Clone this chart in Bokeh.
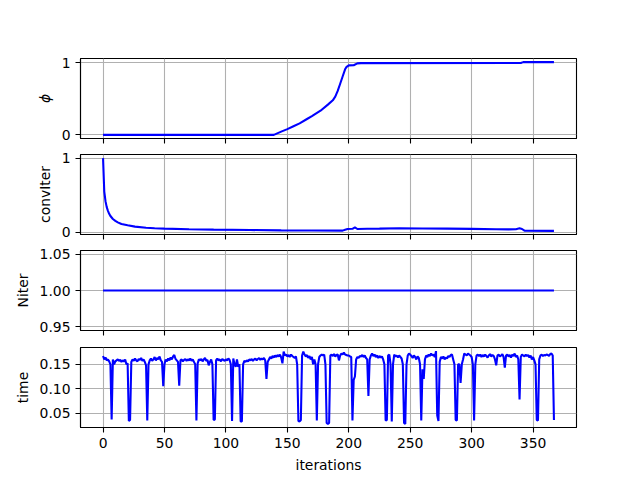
from bokeh.plotting import figure
from bokeh.layouts import column
from bokeh.models import FixedTicker, NumeralTickFormatter, Range1d, LinearAxis, CustomJSTickFormatter
from bokeh.embed import file_html
from bokeh.resources import INLINE

# ---------------- data ----------------
x_ticks = [0, 50, 100, 150, 200, 250, 300, 350]
n_iter = 368
iterations = list(range(n_iter))

phi_iter = [0, 139, 145, 150, 155, 160, 166, 170, 177, 183, 187, 189, 191, 193, 195, 197, 198, 200, 204, 207, 210, 340, 342, 367]
phi_vals = [0.0, 0.0, 0.045, 0.08, 0.12, 0.16, 0.22, 0.26, 0.335, 0.42, 0.48, 0.53, 0.61, 0.71, 0.81, 0.91, 0.94, 0.965, 0.967, 0.993, 0.996, 0.997, 1.01, 1.01]

conv_iter = [0, 1, 2, 3, 4, 5, 6, 8, 10, 12, 15, 20, 26, 35, 42, 50, 70, 90, 120, 145, 170, 195,
             197, 199, 203, 205, 207, 215, 225, 241, 260, 280, 300, 320, 330, 336, 339, 341, 343, 367]
conv_vals = [1.0, 0.55, 0.42, 0.34, 0.29, 0.25, 0.22, 0.18, 0.155, 0.135, 0.113, 0.095, 0.077, 0.063,
             0.055, 0.05, 0.042, 0.037, 0.031, 0.027, 0.025, 0.023, 0.035, 0.045, 0.048, 0.067, 0.045,
             0.048, 0.05, 0.056, 0.052, 0.05, 0.047, 0.042, 0.04, 0.042, 0.054, 0.045, 0.022, 0.02]

niter_iter = [0, 367]
niter_vals = [1.0, 1.0]

time_vals = [
    0.167, 0.160, 0.164, 0.158, 0.160, 0.156, 0.150, 0.037, 0.160, 0.150,
    0.156, 0.158, 0.160, 0.157, 0.159, 0.155, 0.158, 0.156, 0.160, 0.150,
    0.152, 0.034, 0.036, 0.155, 0.160, 0.157, 0.162, 0.158, 0.156, 0.161,
    0.159, 0.163, 0.157, 0.160, 0.155, 0.148, 0.035, 0.150, 0.158, 0.162,
    0.157, 0.160, 0.165, 0.158, 0.163, 0.160, 0.166, 0.158, 0.155, 0.105,
    0.150, 0.160, 0.156, 0.162, 0.158, 0.164, 0.160, 0.166, 0.169, 0.161,
    0.158, 0.155, 0.106, 0.158, 0.160, 0.156, 0.159, 0.161, 0.157, 0.160,
    0.158, 0.162, 0.157, 0.160, 0.155, 0.150, 0.035, 0.152, 0.160, 0.158,
    0.161, 0.156, 0.160, 0.163, 0.157, 0.159, 0.148, 0.155, 0.160, 0.150,
    0.036, 0.037, 0.158, 0.162, 0.158, 0.160, 0.156, 0.161, 0.159, 0.157,
    0.160, 0.158, 0.162, 0.159, 0.150, 0.034, 0.162, 0.150, 0.145, 0.160,
    0.145, 0.150, 0.033, 0.033, 0.150, 0.157, 0.155, 0.158, 0.156, 0.160,
    0.158, 0.161, 0.157, 0.160, 0.162, 0.158, 0.161, 0.163, 0.159, 0.162,
    0.160, 0.163, 0.158, 0.120, 0.155, 0.160, 0.165, 0.162, 0.167, 0.164,
    0.168, 0.165, 0.169, 0.166, 0.170, 0.164, 0.152, 0.176, 0.168, 0.170,
    0.166, 0.169, 0.165, 0.170, 0.167, 0.165, 0.163, 0.166, 0.150, 0.034,
    0.033, 0.036, 0.168, 0.176, 0.170, 0.166, 0.169, 0.163, 0.167, 0.160,
    0.165, 0.150, 0.160, 0.150, 0.035, 0.150, 0.165, 0.168, 0.170, 0.168,
    0.170, 0.150, 0.030, 0.028, 0.030, 0.168, 0.170, 0.167, 0.171, 0.166,
    0.169, 0.170, 0.158, 0.168, 0.172, 0.170, 0.174, 0.170, 0.169, 0.168,
    0.168, 0.166, 0.165, 0.035, 0.118, 0.125, 0.160, 0.165, 0.163, 0.167,
    0.166, 0.169, 0.165, 0.168, 0.163, 0.160, 0.085, 0.160, 0.168, 0.172,
    0.167, 0.170, 0.165, 0.168, 0.163, 0.167, 0.164, 0.166, 0.160, 0.150,
    0.035, 0.036, 0.168, 0.170, 0.150, 0.033, 0.150, 0.170, 0.166, 0.168,
    0.164, 0.168, 0.165, 0.162, 0.150, 0.030, 0.028, 0.150, 0.168, 0.172,
    0.170, 0.167, 0.163, 0.168, 0.165, 0.160, 0.166, 0.163, 0.150, 0.035,
    0.140, 0.120, 0.160, 0.168, 0.165, 0.170, 0.167, 0.172, 0.168, 0.170,
    0.165, 0.177, 0.045, 0.034, 0.155, 0.165, 0.162, 0.166, 0.160, 0.164,
    0.162, 0.167, 0.165, 0.169, 0.170, 0.160, 0.150, 0.036, 0.035, 0.150,
    0.150, 0.112, 0.150, 0.160, 0.172, 0.170, 0.168, 0.172, 0.170, 0.168,
    0.165, 0.150, 0.035, 0.150, 0.168, 0.170, 0.167, 0.170, 0.165, 0.169,
    0.166, 0.170, 0.167, 0.164, 0.168, 0.171, 0.166, 0.169, 0.167, 0.160,
    0.148, 0.168, 0.170, 0.166, 0.168, 0.171, 0.165, 0.143, 0.168, 0.170,
    0.166, 0.169, 0.164, 0.170, 0.167, 0.172, 0.165, 0.168, 0.160, 0.078,
    0.165, 0.170, 0.168, 0.166, 0.170, 0.167, 0.169, 0.164, 0.168, 0.160,
    0.165, 0.158, 0.150, 0.036, 0.035, 0.160, 0.168, 0.170, 0.167, 0.169,
    0.168, 0.170, 0.169, 0.167, 0.171, 0.172, 0.168, 0.036,
]

phi_ticks = [0, 1]
conv_ticks = [0, 1]
niter_ticks = [0.95, 1.00, 1.05]
time_ticks = [0.05, 0.10, 0.15]

# ---------------- styling helpers ----------------
FONT = "DejaVu Sans"
FS = "13.9px"
LINE_W = 2.08


def padded(lo, hi):
    if hi == lo:
        lo, hi = lo - 0.05 * abs(lo), hi + 0.05 * abs(hi)
    d = hi - lo
    return lo - 0.05 * d, hi + 0.05 * d


x_lo, x_hi = padded(min(iterations), max(iterations))


def make_panel(xs, ys, ylabel, yticks, yfmt, top, bottom, show_xlabels, italic=False):
    ylo, yhi = padded(min(ys), max(ys))
    p = figure(frame_width=496, frame_height=80, output_backend="svg", toolbar_location=None,
               x_range=Range1d(x_lo, x_hi), y_range=Range1d(ylo, yhi),
               min_border_left=80, min_border_right=64, min_border_top=top,
               min_border_bottom=bottom, x_axis_location=None, y_axis_location=None)
    p.background_fill_color = "white"
    p.border_fill_color = "white"
    p.outline_line_color = "black"
    p.outline_line_width = 1.1
    p.outline_line_alpha = 1.0

    xa = LinearAxis(ticker=FixedTicker(ticks=x_ticks))
    ya = LinearAxis(ticker=FixedTicker(ticks=yticks))
    if yfmt:
        ya.formatter = NumeralTickFormatter(format=yfmt)
    for ax in (xa, ya):
        ax.axis_line_color = "black"
        ax.axis_line_width = 1.1
        ax.major_tick_line_color = "black"
        ax.major_tick_line_width = 1.1
        ax.major_tick_out = 5
        ax.major_tick_in = 0
        ax.minor_tick_line_color = None
        ax.major_label_text_font = FONT
        ax.major_label_text_font_size = FS
        ax.major_label_text_color = "black"
        ax.major_label_standoff = 5
        ax.axis_label_text_font = FONT
        ax.axis_label_text_font_size = FS
        ax.axis_label_text_color = "black"
        ax.axis_label_text_font_style = "normal"
        ax.axis_label_standoff = 6
    ya.axis_label = ylabel
    if italic:
        ya.axis_label_text_font_style = "italic"
    if show_xlabels:
        xa.axis_label = "iterations"
    else:
        # shared x axis: tick marks only, no tick labels
        xa.formatter = CustomJSTickFormatter(code="return '';")
        xa.major_label_standoff = 0
    p.add_layout(xa, "below")
    p.add_layout(ya, "left")

    p.xgrid.grid_line_color = "#b0b0b0"
    p.ygrid.grid_line_color = "#b0b0b0"
    p.xgrid.grid_line_width = 1.1
    p.ygrid.grid_line_width = 1.1
    p.xgrid.ticker = FixedTicker(ticks=x_ticks)
    p.ygrid.ticker = FixedTicker(ticks=yticks)

    p.line(xs, ys, line_color="#0000ff", line_width=LINE_W)
    return p


p1 = make_panel(phi_iter, phi_vals, "ϕ", phi_ticks, None, 58, 8, False, italic=True)
p2 = make_panel(conv_iter, conv_vals, "convIter", conv_ticks, None, 8, 8, False)
p3 = make_panel(niter_iter, niter_vals, "Niter", niter_ticks, "0.00", 8, 8, False)
p4 = make_panel(iterations, time_vals, "time", time_ticks, "0.00", 9, 53, True)

layout = column(p1, p2, p3, p4, spacing=0)
open("out.html", "w").write(file_html(layout, INLINE))
